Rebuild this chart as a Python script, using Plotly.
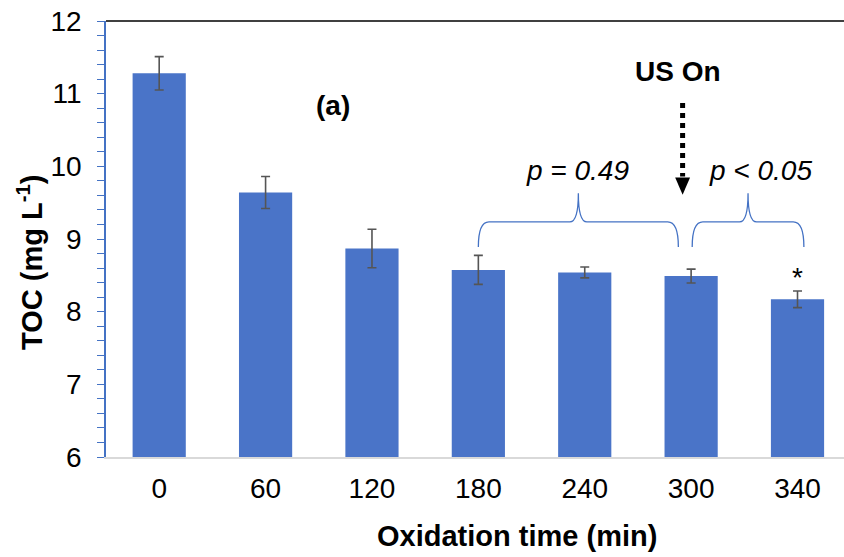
import plotly.graph_objects as go

categories = ["0", "60", "120", "180", "240", "300", "340"]
toc_values = [11.28, 9.64, 8.87, 8.575, 8.54, 8.49, 8.17]
toc_errors = [0.23, 0.22, 0.265, 0.20, 0.075, 0.095, 0.115]
y_ticks = [6, 7, 8, 9, 10, 11, 12]

xpos = list(range(len(categories)))
FONT = "Arial, Liberation Sans, sans-serif"
BLUE = "#4472C4"

fig = go.Figure()
fig.add_trace(go.Bar(
    x=xpos, y=toc_values, width=0.5,
    marker=dict(color="#4A74C8", line=dict(width=0)),
    error_y=dict(type="data", array=toc_errors, visible=True,
                 color="#555555", thickness=1.6, width=4.5),
    showlegend=False,
))

shapes = []
# top border
shapes.append(dict(type="line", xref="paper", yref="paper", x0=0, x1=1, y0=1, y1=1,
                   line=dict(color="black", width=1.5)))

def brace(x0, x1, y_end, y_h, y_tip, r=0.1, rt=0.08):
    xm = (x0 + x1) / 2
    return (f"M {x0},{y_end} Q {x0},{y_h} {x0 + r},{y_h} L {xm - rt},{y_h} "
            f"Q {xm},{y_h} {xm},{y_tip} Q {xm},{y_h} {xm + rt},{y_h} "
            f"L {x1 - r},{y_h} Q {x1},{y_h} {x1},{y_end}")

shapes.append(dict(type="path", xref="x", yref="y",
                   path=brace(3.0, 4.88, 8.89, 9.235, 9.63),
                   line=dict(color=BLUE, width=1.3)))
shapes.append(dict(type="path", xref="x", yref="y",
                   path=brace(5.01, 6.06, 8.89, 9.235, 9.63),
                   line=dict(color=BLUE, width=1.3)))
# dotted arrow
ax = 4.92
shapes.append(dict(type="line", xref="x", yref="y", x0=ax, x1=ax, y0=10.87, y1=9.86,
                   line=dict(color="black", width=5, dash="dot")))
shapes.append(dict(type="path", xref="x", yref="y",
                   path=f"M {ax - 0.07},9.845 L {ax + 0.07},9.845 L {ax},9.61 Z",
                   fillcolor="black", line=dict(color="black", width=0)))

annotations = [
    dict(text="<b>(a)</b>", x=1.63, y=10.84, xref="x", yref="y", showarrow=False,
         font=dict(size=28, color="black")),
    dict(text="<b>US On</b>", x=4.88, y=11.31, xref="x", yref="y", showarrow=False,
         font=dict(size=28, color="black")),
    dict(text="<i>p = 0.49</i>", x=3.93, y=9.94, xref="x", yref="y", showarrow=False,
         font=dict(size=28, color="black")),
    dict(text="<i>p < 0.05</i>", x=5.65, y=9.94, xref="x", yref="y", showarrow=False,
         font=dict(size=28, color="black")),
    dict(text="*", x=6.0, y=8.47, xref="x", yref="y", showarrow=False,
         font=dict(size=28, color="black")),
    dict(text="<b>Oxidation time (min)</b>", x=517, y=536, xref="paper", yref="paper",
         showarrow=False, font=dict(size=29, color="black")),
    dict(text="<b>TOC (mg L<sup>-1</sup>)</b>", x=30, y=263, xref="paper", yref="paper",
         showarrow=False, textangle=-90, font=dict(size=29, color="black")),
]
for a in annotations:
    a["xanchor"] = "center"
    a["yanchor"] = "middle"

W, H = 844, 557
L, R, T, B = 106, 0, 21, 100
for a in annotations[-2:]:
    a["x"] = (a["x"] - L) / (W - L - R)
    a["y"] = (H - B - a["y"]) / (H - T - B)

fig.update_layout(
    width=W, height=H,
    margin=dict(l=L, r=R, t=T, b=B, pad=0, autoexpand=False),
    paper_bgcolor="white", plot_bgcolor="white",
    font=dict(family=FONT, size=28, color="black"),
    shapes=shapes, annotations=annotations,
    bargap=0.5,
)
fig.update_xaxes(
    range=[-0.5, 6.437], tickvals=xpos, ticktext=categories,
    showline=True, linecolor="#D9D9D9", linewidth=1.5,
    ticks="", showgrid=False, zeroline=False, ticklabelstandoff=6,
    tickfont=dict(size=28), automargin=False,
)
fig.update_yaxes(
    range=[6, 12], tickvals=y_ticks,
    showline=True, linecolor=BLUE, linewidth=1.5,
    ticks="outside", ticklen=7, tickcolor=BLUE, tickwidth=1.2,
    minor=dict(dtick=0.2, ticks="outside", ticklen=7, tickcolor=BLUE, tickwidth=1.2, showgrid=False),
    showgrid=False, zeroline=False, ticklabelstandoff=10,
    tickfont=dict(size=28), automargin=False,
)
fig.write_html(
    "out.html",
    config={"displayModeBar": False},
    post_script="document.body.style.margin='0';document.documentElement.style.overflow='hidden';",
)
